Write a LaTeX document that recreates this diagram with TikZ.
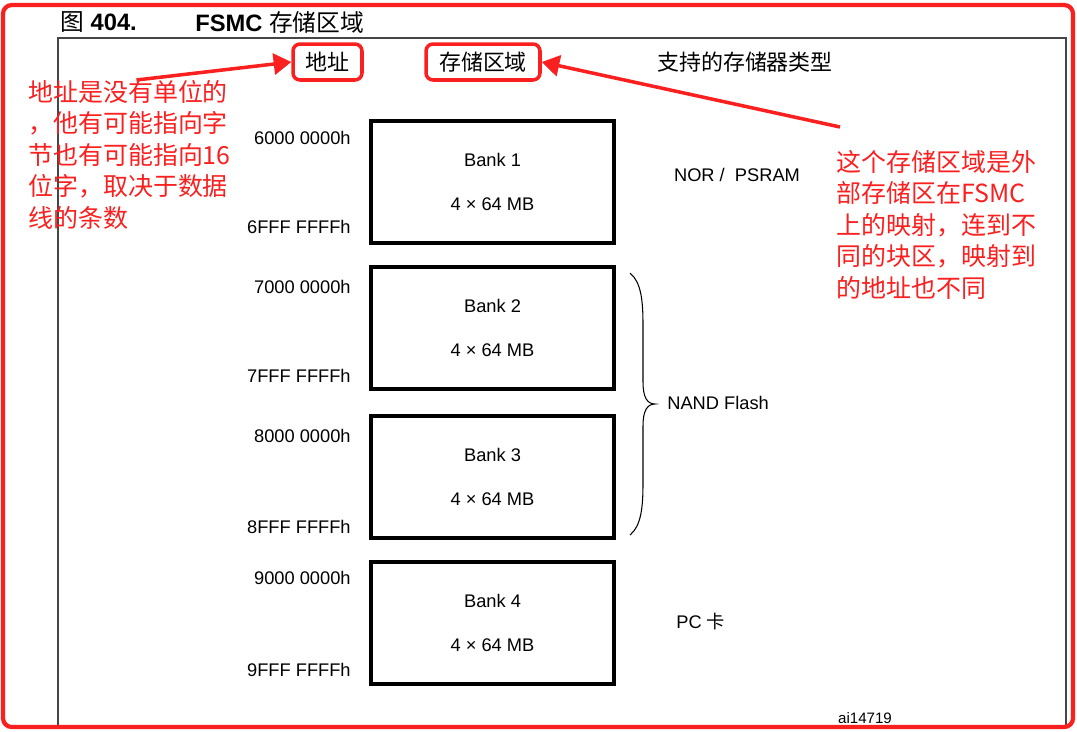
\documentclass[tikz,border=0pt]{standalone}
\usepackage{fontspec}
\setmainfont{Liberation Sans}
\newfontfamily\cjk{Noto Sans CJK SC}
\usetikzlibrary{arrows.meta,positioning,calc}
\definecolor{annored}{RGB}{250,32,32}
\definecolor{framegray}{RGB}{70,70,70}

\begin{document}
\begin{tikzpicture}[
    x=0.02cm, y=-0.02cm,
    bankbox/.style={draw, line width=1.9pt, align=center, minimum width=4.86cm, minimum height=2.44cm, font=\fontsize{10.4}{25}\selectfont},
    addr/.style={anchor=east, inner sep=0pt, font=\fontsize{10.4}{12}\selectfont},
    memtype/.style={inner sep=0pt, font=\fontsize{10.4}{12}\selectfont},
    hdr/.style={inner sep=0pt, font=\fontsize{12.5}{15}\selectfont\cjk},
    redbox/.style={draw=annored, line width=2pt, rounded corners=4pt, minimum height=0.72cm},
    note/.style={anchor=north west, inner sep=0pt, align=left, text=annored, font=\fontsize{14.2}{17.9}\selectfont\cjk},
    redarrow/.style={annored, line width=2pt, -{Triangle[length=10pt, width=12pt]}},
    >=Latex
]
  \useasboundingbox (0,0) rectangle (1077,731);

  % frames
  \draw[framegray, line width=0.8pt] (58,727) -- (58,38) -- (1066,38) -- (1066,727);
  \draw[annored, line width=2.4pt, rounded corners=5pt] (3,5) rectangle (1073,727);

  % title
  \node[anchor=west, inner sep=0pt, font=\fontsize{13.5}{16}\selectfont] (fignum) at (60,22) {{\cjk 图} \textbf{404.}};
  \node[anchor=west, inner sep=0pt, font=\fontsize{13.5}{16}\selectfont] (figtitle) at (195,22) {\textbf{FSMC} {\cjk 存储区域}};

  % column heads
  \node[hdr, redbox, minimum width=1.38cm] (addrhdr) at (327.5,62) {地址};
  \node[hdr, redbox, minimum width=2.28cm] (reghdr) at (483,62) {存储区域};
  \node[hdr] (typehdr) at (745,62) {支持的存储器类型};

  % banks
  \node[bankbox] (bank1) at (492.5,182) {Bank 1\\4 × 64 MB};
  \node[bankbox] (bank2) at (492.5,328) {Bank 2\\4 × 64 MB};
  \node[bankbox] (bank3) at (492.5,477) {Bank 3\\4 × 64 MB};
  \node[bankbox] (bank4) at (492.5,623) {Bank 4\\4 × 64 MB};

  % addresses
  \node[addr] (addr1s) at (351,138) {6000 0000h};
  \node[addr] (addr1e) at (351,227) {6FFF FFFFh};
  \node[addr] (addr2s) at (351,287) {7000 0000h};
  \node[addr] (addr2e) at (351,376) {7FFF FFFFh};
  \node[addr] (addr3s) at (351,436) {8000 0000h};
  \node[addr] (addr3e) at (351,527) {8FFF FFFFh};
  \node[addr] (addr4s) at (351,578) {9000 0000h};
  \node[addr] (addr4e) at (351,670) {9FFF FFFFh};

  % memory types
  \node[memtype] (nor) at (737,175) {NOR / \ PSRAM};
  \node[memtype, anchor=west] (nand) at (667,403) {NAND Flash};
  \node[memtype, anchor=west] (pccard) at (676,622) {PC {\cjk 卡}};
  \node[memtype, font=\fontsize{8.6}{10}\selectfont] (figid) at (865,718) {ai14719};

  \draw[line width=0.6pt] (630,273) .. controls (641,282) and (643,300) .. (643,325) -- (643,382)
    .. controls (643,397) and (647,404) .. (655,404) .. controls (647,404) and (643,411) .. (643,426)
    -- (643,483) .. controls (643,508) and (641,526) .. (630,535);

  % notes
  \node[note] (note1) at (28,80) {地址是没有单位的\\，他有可能指向字\\节也有可能指向16\\位字，取决于数据\\线的条数};
  \node[note] (note2) at (836,150) {这个存储区域是外\\部存储区在FSMC\\上的映射，连到不\\同的块区，映射到\\的地址也不同};

  \coordinate (tail2) at (840,127);
  \draw[redarrow] ([xshift=0.14cm]note1.north) -- (addrhdr.west);
  \draw[redarrow] (tail2) -- (reghdr.east);
\end{tikzpicture}
\end{document}
